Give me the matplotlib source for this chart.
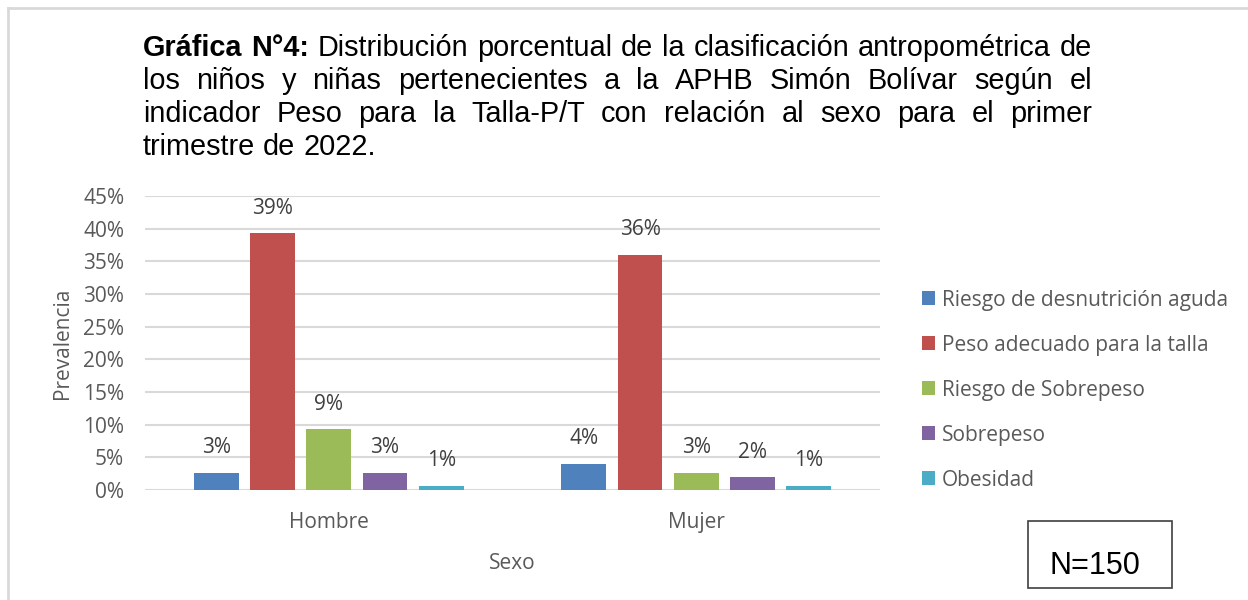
import matplotlib
matplotlib.use("Agg")
import matplotlib.pyplot as plt
import numpy as np
from matplotlib.patches import Rectangle
from matplotlib.lines import Line2D
from matplotlib.ticker import PercentFormatter

categories = ["Hombre", "Mujer"]
series = ["Riesgo de desnutrición aguda", "Peso adecuado para la talla",
          "Riesgo de Sobrepeso", "Sobrepeso", "Obesidad"]
values = [
    [2.67, 4.00],
    [39.33, 36.00],
    [9.33, 2.67],
    [2.67, 2.00],
    [0.67, 0.67],
]
colors = ["#4F81BD", "#C0504D", "#9BBB59", "#8064A2", "#4BACC6"]

title_lines = [
    [("Gráfica", "bold"), ("N°4:", "bold"), ("Distribución", "normal"), ("porcentual", "normal"),
     ("de", "normal"), ("la", "normal"), ("clasificación", "normal"), ("antropométrica", "normal"),
     ("de", "normal")],
    [(w, "normal") for w in "los niños y niñas pertenecientes a la APHB Simón Bolívar según el".split()],
    [(w, "normal") for w in "indicador Peso para la Talla-P/T con relación al sexo para el primer".split()],
    [(w, "normal") for w in "trimestre de 2022.".split()],
]

W, H = 1248, 600
txt_font = "Open Sans"
gray = "#595959"

fig = plt.figure(figsize=(W / 100, H / 100), dpi=100)
fig.lines.append(Line2D([8 / W, 1], [1 - 8 / H, 1 - 8 / H], transform=fig.transFigure,
                        color="#D9D9D9", linewidth=2))
fig.lines.append(Line2D([8 / W, 8 / W], [0, 1 - 8 / H], transform=fig.transFigure,
                        color="#D9D9D9", linewidth=2))

ax = fig.add_axes([145 / W, 1 - 490 / H, 735 / W, 294 / H])

n = len(series)
pitch = 0.153
bw = 0.1216
x = np.arange(len(categories))
for i, (name, vals, c) in enumerate(zip(series, values, colors)):
    pos = x + (i - (n - 1) / 2) * pitch
    bars = ax.bar(pos, vals, width=bw, color=c, label=name, zorder=3)
    for b, v in zip(bars, vals):
        ax.text(b.get_x() + b.get_width() / 2, v + 2.2, f"{v:.0f}%", ha="center", va="bottom",
                fontsize=15, color="#404040", family=txt_font)

ax.set_xlim(-0.5, 1.5)
ax.set_ylim(0, 45)
ax.set_yticks(np.arange(0, 46, 5))
ax.yaxis.set_major_formatter(PercentFormatter(decimals=0))
ax.set_xticks(x)
ax.set_xticklabels(categories)
ax.grid(axis="y", color="#D9D9D9", linewidth=1.5, zorder=0)
for s in ax.spines.values():
    s.set_visible(False)
ax.tick_params(axis="y", length=0, labelsize=15, labelcolor=gray, pad=15)
ax.tick_params(axis="x", length=0, labelsize=15, labelcolor=gray, pad=16)
for lab in ax.get_xticklabels() + ax.get_yticklabels():
    lab.set_family(txt_font)
ax.set_xlabel("Sexo", fontsize=15, color=gray, family=txt_font, labelpad=14)
ax.set_ylabel("Prevalencia", fontsize=15, color=gray, family=txt_font, labelpad=7)

leg = fig.legend(loc="upper left", bbox_to_anchor=(903 / W, 1 - 271 / H), frameon=False,
                 prop={"family": txt_font, "size": 15}, labelcolor=gray,
                 handlelength=0.65, handleheight=0.65, handletextpad=0.3, labelspacing=1.15)

# justified title
fig.canvas.draw()
renderer = fig.canvas.get_renderer()
x0, x1 = 143, 1092
y_lines = [48, 81, 114, 147]
fs_title = 20.8
for li, (words, yc) in enumerate(zip(title_lines, y_lines)):
    objs = []
    for w, wt in words:
        t = fig.text(0, 1 - yc / H, w, fontsize=fs_title, weight=wt, family="Liberation Sans",
                     va="center", ha="left", color="black")
        objs.append(t)
    widths = [t.get_window_extent(renderer).width for t in objs]
    if li < len(title_lines) - 1:
        gap = (x1 - x0 - sum(widths)) / (len(objs) - 1)
    else:
        space = fig.text(0, 0, "a a", fontsize=fs_title, family="Liberation Sans")
        aa = fig.text(0, 0, "aa", fontsize=fs_title, family="Liberation Sans")
        gap = space.get_window_extent(renderer).width - aa.get_window_extent(renderer).width
        space.remove()
        aa.remove()
    xp = x0
    for t, wd in zip(objs, widths):
        t.set_x(xp / W)
        xp += wd + gap

fig.patches.append(Rectangle((1028 / W, 1 - 588 / H), 144 / W, 67 / H, transform=fig.transFigure,
                             fill=False, edgecolor="#404040", linewidth=1.2))
fig.text(1095 / W, 1 - 566 / H, "N=150", fontsize=22, family="Liberation Sans",
         ha="center", va="center", color="black")

fig.savefig("out.png", dpi=100)
